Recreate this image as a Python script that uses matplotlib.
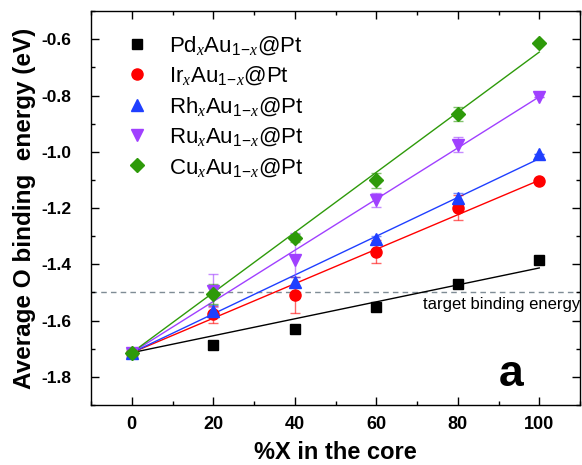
import matplotlib

matplotlib.use("Agg")
import matplotlib.pyplot as plt
import numpy as np
from matplotlib.ticker import MultipleLocator

plt.rcParams["font.family"] = ["Liberation Sans", "DejaVu Sans"]
plt.rcParams["mathtext.fontset"] = "custom"
plt.rcParams["mathtext.rm"] = "Liberation Sans"
plt.rcParams["mathtext.it"] = "Liberation Serif:italic"

# core composition (% X) and average O binding energies (eV)
x_pct = [0, 20, 40, 60, 80, 100]
pd_au = [-1.714, -1.685, -1.629, -1.551, -1.469, -1.385]
ir_au = [-1.714, -1.578, -1.509, -1.355, -1.198, -1.103]
rh_au = [-1.714, -1.566, -1.463, -1.310, -1.165, -1.008]
ru_au = [-1.714, -1.493, -1.385, -1.170, -0.975, -0.806]
cu_au = [-1.714, -1.505, -1.307, -1.101, -0.866, -0.614]

pd_err = [0, 0.005, 0.005, 0.005, 0.015, 0.005]
ir_err = [0, 0.03, 0.063, 0.04, 0.045, 0]
rh_err = [0, 0.02, 0.018, 0.01, 0.02, 0]
ru_err = [0, 0.06, 0.095, 0.025, 0.027, 0]
cu_err = [0, 0.035, 0.015, 0.027, 0.025, 0]

target_energy = -1.50

series = [
    ("Pd", pd_au, pd_err, "#000000", "s", 7),
    ("Ir", ir_au, ir_err, "#FF0000", "o", 8),
    ("Rh", rh_au, rh_err, "#1F3FFF", "^", 8),
    ("Ru", ru_au, ru_err, "#A040FF", "v", 8),
    ("Cu", cu_au, cu_err, "#2E9A0A", "D", 7),
]


def fit_through_start(x, y):
    # least squares line pinned to the pure-Au point at x = 0
    x = np.asarray(x, dtype=float)
    y = np.asarray(y, dtype=float)
    dy = y - y[0]
    slope = float((x * dy).sum() / (x * x).sum())
    return slope, y[0]


fig = plt.figure(figsize=(5.82, 4.65), dpi=100)
ax = fig.add_axes([0.1564, 0.129, 0.8402, 0.847])

ax.axhline(target_energy, color="#7F8C95", linewidth=1.0,
           linestyle=(0, (4, 3)), zorder=1)

line_x = np.array([0.0, 100.0])
for metal, values, errors, color, marker, size in series:
    slope, start = fit_through_start(x_pct, values)
    ax.plot(line_x, start + slope * line_x, color=color, linewidth=1.0,
            zorder=2)
    ax.errorbar(x_pct, values, yerr=errors, fmt="none", ecolor=color,
                elinewidth=1.0, capsize=3.5, capthick=1.0, alpha=0.6,
                zorder=3)
    label = metal + r"$_{\mathit{x}}$Au$_{\mathit{1\!-\!x}}$@Pt"
    ax.plot(x_pct, values, linestyle="none", marker=marker, markersize=size,
            color=color, label=label, zorder=4)

ax.text(71.5, target_energy - 0.015, "target binding energy", ha="left",
        va="top", fontsize=12, clip_on=False)
ax.text(93, -1.79, "a", ha="center", va="center", fontsize=32,
        fontweight="bold")

ax.set_xlim(-10, 110)
ax.set_ylim(-1.9, -0.5)
ax.xaxis.set_major_locator(MultipleLocator(20))
ax.xaxis.set_minor_locator(MultipleLocator(10))
ax.yaxis.set_major_locator(MultipleLocator(0.2))
ax.yaxis.set_minor_locator(MultipleLocator(0.1))
ax.yaxis.set_major_formatter(lambda value, _: f"{value:.1f}")
ax.tick_params(which="both", direction="in", top=True, right=True,
               width=1.0)
ax.tick_params(which="major", length=6)
ax.tick_params(which="minor", length=3)
ax.tick_params(axis="x", which="major", pad=8, labelsize=13)
ax.tick_params(axis="y", which="major", pad=14, labelsize=12.5)
for tick_label in ax.get_xticklabels() + ax.get_yticklabels():
    tick_label.set_fontweight("bold")
for spine in ax.spines.values():
    spine.set_linewidth(1.0)

ax.set_xlabel("%X in the core", fontsize=17, fontweight="bold",
              labelpad=6)
ax.set_ylabel("Average O binding  energy (eV)", fontsize=17.5,
              fontweight="bold", labelpad=4)

ax.legend(loc="upper left", bbox_to_anchor=(0.045, 0.975), frameon=False,
          fontsize=16, handlelength=1.0, handletextpad=0.9,
          labelspacing=0.35, borderaxespad=0.2)

fig.savefig("out.png", dpi=100, facecolor="white")
plt.close(fig)
